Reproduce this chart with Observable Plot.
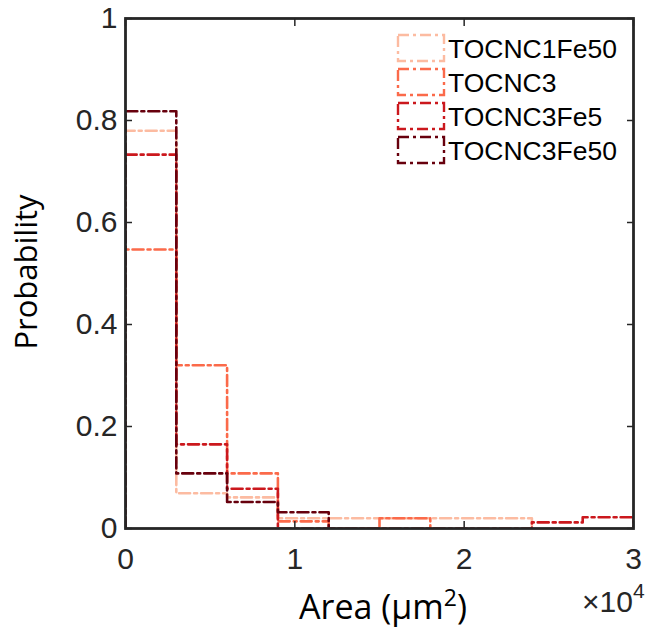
<!DOCTYPE html>
<html><head><meta charset="utf-8">
<script src="https://cdn.jsdelivr.net/npm/d3@7"></script>
<script src="https://cdn.jsdelivr.net/npm/@observablehq/plot@0.6"></script>
<style>
body{margin:0;background:#fff}
#chart{position:relative;width:647px;height:637px}
</style>
</head><body><div id="chart"></div>
<script>
// ---- data ----
const binWidth = 3000; // µm², bin width of the histograms
const seriesNames = ["TOCNC1Fe50", "TOCNC3", "TOCNC3Fe5", "TOCNC3Fe50"];
const seriesColors = ["#fcbba1", "#fb6a4a", "#cb181d", "#67000d"];
const probTOCNC1Fe50 = [0.780, 0.069, 0.061, 0.020, 0.020, 0.020, 0.020, 0.020];
const probTOCNC3     = [0.547, 0.320, 0.108, 0.014, 0.000, 0.020];
const probTOCNC3Fe5  = [0.733, 0.165, 0.078, 0.000, 0.000, 0.000, 0.000, 0.000, 0.012, 0.022];
const probTOCNC3Fe50 = [0.818, 0.108, 0.052, 0.032];
const xTicks = [0, 10000, 20000, 30000];
const yTicks = [0, 0.2, 0.4, 0.6, 0.8, 1];
const xLabel = "Area (μm";
const yLabel = "Probability";

const seriesValues = [probTOCNC1Fe50, probTOCNC3, probTOCNC3Fe5, probTOCNC3Fe50];

// stairs outline (MATLAB histogram 'stairs' display style)
function stairs(vals, name) {
  const pts = [{x: 0, y: 0, s: name}];
  vals.forEach((v, i) => pts.push({x: i * binWidth, y: v, s: name}));
  const end = vals.length * binWidth;
  pts.push({x: end, y: vals[vals.length - 1], s: name});
  pts.push({x: end, y: 0, s: name});
  return pts;
}

const dash = "11,4,3,4";
const lineMarks = seriesValues.map((vals, k) =>
  Plot.line(stairs(vals, seriesNames[k]), {
    x: "x", y: "y", curve: "step-after", clip: true,
    stroke: seriesColors[k], strokeWidth: 2.6, strokeDasharray: dash
  })
);

const axisColor = "#262626";
const chart = Plot.plot({
  width: 647, height: 637,
  marginLeft: 125, marginRight: 14, marginTop: 18, marginBottom: 109,
  x: {domain: [0, 30000], axis: null},
  y: {domain: [0, 1], axis: null},
  style: {fontFamily: "'Liberation Sans', Arial, sans-serif", color: axisColor, background: "#fff"},
  marks: [
    ...lineMarks,
    Plot.axisX(xTicks, {anchor: "bottom", tickSize: -7, tickPadding: 26, tickFormat: d => String(d / 1e4), label: null, fontSize: 30, stroke: axisColor, strokeWidth: 1.5}),
    Plot.axisX(xTicks, {anchor: "top", tickSize: -7, tickFormat: () => "", label: null, stroke: axisColor, strokeWidth: 1.5}),
    Plot.axisY(yTicks, {anchor: "left", tickSize: -7, tickPadding: 15, tickFormat: d => String(d), label: null, fontSize: 30, stroke: axisColor, strokeWidth: 1.5}),
    Plot.axisY(yTicks, {anchor: "right", tickSize: -7, tickFormat: () => "", label: null, stroke: axisColor, strokeWidth: 1.5}),
    Plot.frame({stroke: axisColor, strokeWidth: 2.8})
  ]
});
document.getElementById("chart").appendChild(chart);

// ---- labels and legend ----
const svg = d3.select(chart);
const t = svg.append("text")
  .attr("x", 383).attr("y", 619)
  .attr("text-anchor", "middle")
  .attr("font-family", "'Open Sans', sans-serif").attr("font-size", 34).attr("fill", "#000")
  .text(xLabel);
t.append("tspan").attr("font-size", 23).attr("dy", -13).text("2");
t.append("tspan").attr("dy", 13).text(")");

svg.append("text")
  .attr("transform", "translate(37,272) rotate(-90)")
  .attr("text-anchor", "middle")
  .attr("font-family", "'Open Sans', sans-serif").attr("font-size", 31).attr("fill", "#000")
  .text(yLabel);

const ex = svg.append("text")
  .attr("x", 582).attr("y", 612)
  .attr("text-anchor", "start")
  .attr("font-family", "'Liberation Sans', Arial, sans-serif").attr("font-size", 30).attr("fill", axisColor)
  .text("×10");
ex.append("tspan").attr("font-size", 21).attr("dy", -14).text("4");

const lg = svg.append("g").attr("text-anchor", "start");
seriesNames.forEach((name, k) => {
  const top = 35 + k * 34;
  lg.append("rect")
    .attr("x", 398).attr("y", top).attr("width", 46).attr("height", 26)
    .attr("fill", "none").attr("stroke", seriesColors[k]).attr("stroke-width", 2.4)
    .attr("stroke-dasharray", dash);
  lg.append("text")
    .attr("x", 448).attr("y", top + 13 + 9.5)
    .attr("text-anchor", "start")
    .attr("font-family", "'Liberation Sans', Arial, sans-serif").attr("font-size", 26.5).attr("fill", "#000")
    .text(name);
});
</script>
</body></html>
